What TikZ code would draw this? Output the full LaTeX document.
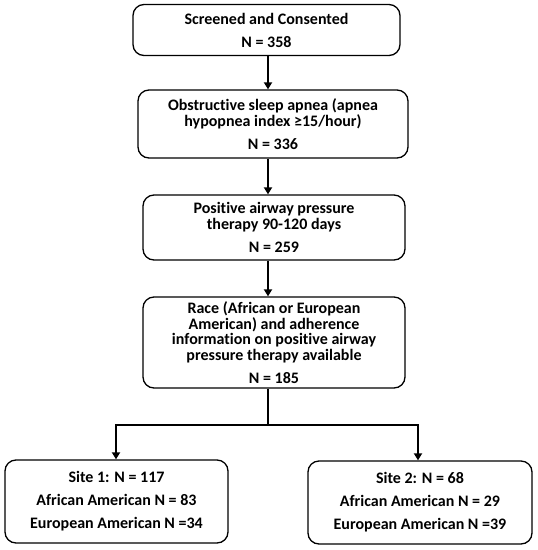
\documentclass[tikz,border=0pt]{standalone}
\usepackage{fontspec}
\setmainfont[Ligatures={NoCommon}]{Carlito}
\usetikzlibrary{arrows.meta}
\begin{document}
\begin{tikzpicture}[x=1pt,y=-1pt,
  box/.style={draw, line width=1.3pt, rounded corners=11pt, inner sep=0pt, align=center,
    font=\bfseries\fontsize{16}{15.5}\selectfont},
  arr/.style={line width=1.7pt, -{Triangle[length=7pt,width=8pt]}},
  ln/.style={line width=1.7pt}]
\useasboundingbox (0,0) rectangle (538,550);
\node[box, minimum width=267pt, minimum height=51pt] (b1) at (266.5,30)
  {Screened and Consented\\[7.5pt]N = 358};
\node[box, minimum width=270pt, minimum height=68pt] (b2) at (273,124)
  {Obstructive sleep apnea (apnea\\hypopnea index ≥15/hour)\\[7.5pt]N = 336};
\node[box, minimum width=262pt, minimum height=65pt] (b3) at (274,227.5)
  {Positive airway pressure\\therapy 90-120 days\\[7.5pt]N = 259};
\node[box, minimum width=262pt, minimum height=91pt] (b4) at (274,342.5)
  {Race (African or European\\American) and adherence\\information on positive airway\\pressure therapy available\\[7.5pt]N = 185};
\node[box, minimum width=223pt, minimum height=83pt] (b5) at (116.5,501.5)
  {Site 1: N = 117\\[7.5pt]African American N = 83\\[7.5pt]European American N =34};
\node[box, minimum width=224pt, minimum height=83pt] (b6) at (420,502.5)
  {Site 2: N = 68\\[7.5pt]African American N = 29\\[7.5pt]European American N =39};
\coordinate (ax) at (268,0);
\coordinate (hl) at (116,425);
\coordinate (hr) at (418,425);
\coordinate (hc) at (268,425);
\draw[arr] (b1.south -| ax) -- (b2.north -| ax);
\draw[arr] (b2.south -| ax) -- (b3.north -| ax);
\draw[arr] (b3.south -| ax) -- (b4.north -| ax);
\draw[ln] (b4.south -| ax) -- (hc);
\draw[arr] (hc) -- (hl) -- (b5.north -| hl);
\draw[arr] (hc) -- (hr) -- (b6.north -| hr);
\end{tikzpicture}
\end{document}
